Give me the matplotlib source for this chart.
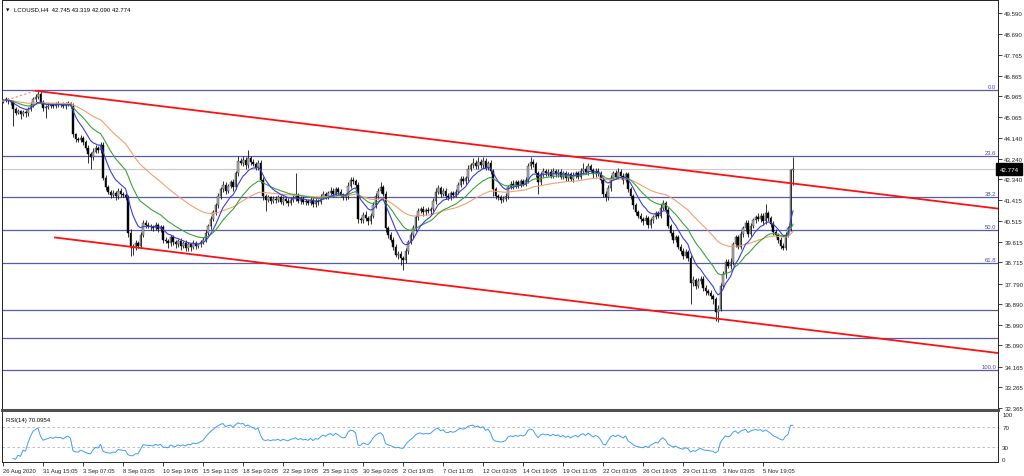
import numpy as np
import pandas as pd
import matplotlib
matplotlib.use('Agg')
import matplotlib.pyplot as plt
from matplotlib.transforms import blended_transform_factory

plt.rcParams['font.family'] = ['Liberation Sans', 'DejaVu Sans']

# LCOUSD H4 closes, 10 bars per row (26 Aug - 6 Nov 2020)
closes = [
    45.78, 45.82, 45.74, 45.70, 45.40, 45.25, 45.30, 45.18, 45.28, 45.22,
    45.40, 45.60, 45.85, 45.95, 46.05, 45.70, 45.45, 45.50, 45.55, 45.60,
    45.55, 45.62, 45.58, 45.60, 45.52, 45.60, 45.65, 45.55, 44.30, 44.10,
    44.05, 44.15, 43.95, 43.70, 43.45, 43.30, 43.55, 43.70, 43.60, 43.85,
    42.40, 42.00, 41.80, 41.65, 41.75, 41.60, 41.85, 41.70, 41.65, 41.55,
    40.00, 39.40, 39.35, 39.55, 39.45, 39.90, 40.45, 40.35, 40.30, 40.25,
    40.20, 40.35, 40.15, 40.25, 39.70, 39.65, 39.55, 39.80, 39.60, 39.50,
    39.65, 39.45, 39.55, 39.35, 39.50, 39.40, 39.55, 39.45, 39.50, 39.60,
    39.70, 40.00, 40.30, 40.60, 40.90, 41.20, 41.60, 41.90, 42.10, 41.85,
    42.05, 42.20, 42.00, 42.60, 43.15, 43.05, 43.20, 42.95, 43.25, 43.10,
    43.00, 42.85, 43.05, 42.30, 41.60, 41.45, 41.55, 41.40, 41.50, 41.45,
    41.55, 41.35, 41.50, 41.40, 41.30, 41.45, 41.50, 41.60, 41.40, 41.50,
    41.35, 41.40, 41.30, 41.45, 41.25, 41.40, 41.35, 41.55, 41.70, 41.60,
    41.75, 41.85, 41.70, 41.90, 41.80, 41.65, 41.55, 41.60, 42.05, 42.30,
    42.25, 42.10, 40.60, 40.55, 40.80, 40.65, 40.50, 40.75, 41.20, 41.60,
    41.85, 42.00, 41.70, 40.20, 39.90, 39.70, 39.40, 39.05, 39.10, 38.90,
    38.80, 39.20, 39.60, 39.90, 40.20, 40.70, 40.95, 41.05, 40.90, 41.00,
    40.95, 41.05, 41.40, 41.80, 41.95, 41.70, 41.85, 41.60, 41.55, 41.75,
    41.65, 41.80, 42.10, 42.35, 42.25, 42.40, 42.80, 42.95, 43.05, 42.90,
    43.10, 42.95, 43.15, 42.85, 43.05, 42.70, 41.90, 41.60, 41.55, 41.45,
    41.50, 41.60, 42.00, 42.15, 42.05, 42.20, 42.10, 42.25, 42.15, 42.30,
    42.90, 43.10, 43.00, 42.60, 42.20, 42.55, 42.70, 42.60, 42.65, 42.50,
    42.70, 42.55, 42.65, 42.45, 42.60, 42.40, 42.55, 42.35, 42.50, 42.60,
    42.45, 42.70, 42.80, 42.65, 42.90, 42.75, 42.55, 42.70, 42.60, 42.30,
    41.70, 41.55, 41.95, 42.40, 42.60, 42.45, 42.65, 42.50, 42.30, 42.55,
    41.90, 41.60, 41.20, 40.90, 40.75, 40.60, 40.50, 40.65, 40.35, 40.55,
    40.70, 40.85, 40.75, 41.10, 41.30, 41.00, 40.30, 40.00, 39.70, 39.80,
    39.40, 39.20, 39.00, 39.15, 38.90, 37.80, 37.95, 37.70, 37.90, 38.00,
    37.60, 37.45, 37.40, 37.25, 37.10, 36.55, 36.70, 37.70, 38.20, 38.75,
    38.55, 38.75, 39.50, 39.80, 39.40, 39.95, 40.20, 40.45, 39.95, 40.30,
    40.55, 40.70, 40.60, 40.75, 40.50, 40.85, 40.65, 40.40, 40.05, 39.90,
    39.70, 39.45, 39.35, 39.90, 40.20, 42.745, 42.774,
]
first_open = 45.72

# wick lengths in cents above / below the candle body
up_wick = [
    8, 10, 6, 5, 8, 10, 12, 6, 10, 8,
    8, 10, 8, 10, 17, 12, 10, 8, 10, 8,
    8, 10, 12, 8, 10, 12, 10, 8, 10, 8,
    10, 12, 8, 10, 12, 8, 15, 12, 10, 12,
    10, 12, 10, 8, 12, 10, 12, 10, 8, 10,
    10, 15, 10, 12, 10, 15, 12, 10, 12, 10,
    10, 12, 10, 8, 10, 12, 10, 12, 10, 8,
    10, 12, 10, 12, 10, 8, 12, 10, 8, 10,
    10, 12, 10, 15, 12, 10, 15, 12, 15, 12,
    10, 12, 15, 10, 20, 12, 15, 10, 35, 12,
    12, 10, 12, 15, 12, 10, 12, 8, 10, 12,
    10, 12, 10, 8, 12, 10, 15, 100, 12, 10,
    12, 10, 8, 12, 10, 12, 10, 15, 12, 10,
    10, 15, 10, 12, 10, 12, 10, 12, 15, 12,
    12, 10, 12, 10, 12, 15, 10, 12, 15, 12,
    12, 20, 10, 12, 10, 12, 10, 12, 10, 12,
    10, 12, 10, 12, 15, 10, 12, 10, 12, 10,
    12, 10, 12, 15, 12, 10, 12, 10, 12, 10,
    10, 12, 10, 15, 12, 10, 15, 12, 20, 12,
    20, 12, 15, 12, 10, 12, 10, 12, 10, 12,
    10, 12, 10, 12, 15, 10, 12, 10, 12, 15,
    15, 20, 12, 10, 12, 10, 12, 10, 15, 12,
    12, 10, 15, 12, 10, 12, 10, 12, 15, 12,
    10, 12, 25, 10, 15, 12, 10, 12, 15, 12,
    10, 12, 15, 12, 10, 15, 20, 12, 10, 12,
    10, 12, 10, 12, 10, 12, 10, 15, 10, 12,
    10, 12, 10, 15, 15, 10, 12, 10, 12, 10,
    12, 10, 12, 15, 10, 12, 15, 10, 12, 10,
    10, 12, 10, 12, 10, 12, 15, 12, 15, 12,
    12, 15, 12, 10, 12, 15, 12, 10, 12, 15,
    12, 10, 15, 12, 10, 40, 12, 10, 12, 10,
    10, 12, 10, 12, 10, 5, 54.5,
]
down_wick = [
    6, 8, 10, 12, 75, 10, 8, 20, 10, 15,
    10, 8, 10, 12, 10, 8, 15, 45, 10, 8,
    8, 10, 8, 10, 8, 10, 8, 12, 10, 15,
    10, 8, 12, 10, 40, 50, 10, 8, 12, 10,
    10, 12, 10, 12, 10, 15, 10, 12, 10, 12,
    20, 40, 30, 10, 12, 10, 10, 12, 10, 12,
    10, 8, 12, 10, 12, 10, 20, 10, 12, 15,
    12, 20, 10, 15, 12, 20, 10, 15, 12, 10,
    10, 8, 10, 12, 10, 12, 10, 12, 10, 15,
    12, 10, 15, 10, 12, 10, 12, 15, 10, 12,
    10, 12, 10, 12, 15, 50, 10, 12, 10, 15,
    12, 10, 15, 10, 12, 10, 8, 12, 10, 12,
    10, 12, 10, 8, 12, 10, 12, 10, 8, 12,
    12, 10, 12, 10, 15, 10, 12, 10, 12, 10,
    10, 12, 15, 12, 10, 12, 15, 10, 12, 10,
    10, 12, 10, 15, 12, 10, 15, 12, 20, 30,
    40, 10, 12, 10, 12, 10, 12, 10, 15, 12,
    10, 12, 10, 12, 10, 15, 10, 12, 10, 12,
    12, 10, 12, 10, 12, 10, 12, 10, 12, 10,
    10, 12, 10, 12, 10, 12, 30, 10, 12, 15,
    12, 10, 12, 10, 12, 10, 12, 10, 12, 10,
    12, 10, 12, 15, 50, 12, 10, 12, 10, 12,
    10, 12, 10, 12, 10, 15, 12, 10, 12, 10,
    12, 10, 12, 10, 12, 10, 15, 12, 10, 12,
    12, 15, 10, 12, 10, 12, 10, 12, 15, 10,
    12, 10, 15, 12, 10, 12, 15, 10, 12, 15,
    12, 10, 12, 10, 12, 15, 10, 12, 15, 10,
    10, 12, 15, 10, 12, 90, 12, 15, 10, 12,
    12, 15, 10, 12, 20, 40, 45, 10, 12, 15,
    10, 12, 15, 12, 10, 12, 15, 10, 12, 10,
    10, 12, 10, 12, 15, 10, 12, 15, 12, 10,
    12, 15, 10, 8, 10, 10, 65.5,
]

# fibonacci retracement drawn on the chart
fib_high = 46.22
fib_low = 34.02
fib_levels = [0.0, 23.6, 38.2, 50.0, 61.8, 78.6, 88.6, 100.0]
fib_texts = ['0.0', '23.6', '38.2', '50.0', '61.8', '', '', '100.0']

# channel trendlines: (bar, price) anchors
upper_line = [(13, 46.20), (398, 41.06)]
lower_line = [(20.8, 39.80), (398, 34.76)]
dotted_line = [(0, 45.74), (13, 46.20)]

price_ticks = ['49.590', '48.690', '47.765', '46.865', '45.965', '45.065', '44.140',
               '43.240', '42.340', '41.415', '40.515', '39.615', '38.715', '37.790',
               '36.890', '35.990', '35.090', '34.165', '33.265', '32.365']
date_labels = ['26 Aug 2020', '31 Aug 15:05', '3 Sep 07:05', '8 Sep 03:05', '10 Sep 19:05',
               '15 Sep 11:05', '18 Sep 03:05', '22 Sep 19:05', '25 Sep 11:05', '30 Sep 03:05',
               '2 Oct 19:05', '7 Oct 11:05', '12 Oct 03:05', '14 Oct 19:05', '19 Oct 11:05',
               '22 Oct 03:05', '26 Oct 19:05', '29 Oct 11:05', '3 Nov 03:05', '5 Nov 19:05']
bars_per_label = 16
last_price = 42.774
header = 'LCOUSD,H4  42.745 43.319 42.090 42.774'
rsi_text = 'RSI(14) 70.0954'

# ---- build OHLC
close = pd.Series(closes, dtype=float)
opens = pd.Series([first_open] + closes[:-1], dtype=float)
highs = np.maximum(opens, close) + np.array(up_wick) / 100
lows = np.minimum(opens, close) - np.array(down_wick) / 100
idx = np.arange(len(close))

ma_fast = close.ewm(span=9, adjust=False).mean()
ma_mid = close.ewm(span=21, adjust=False).mean()
ma_slow = close.ewm(span=50, adjust=False).mean()

delta = close.diff()
gain = delta.clip(lower=0).ewm(alpha=1 / 14, adjust=True).mean()
loss = (-delta.clip(upper=0)).ewm(alpha=1 / 14, adjust=True).mean()
rsi = 100 - 100 / (1 + gain / loss)
rsi_start = 4  # first few values are not settled yet

# ---- figure
W, H = 1024, 477
fig = plt.figure(figsize=(W / 100, H / 100), dpi=100)
ax = fig.add_axes([2 / W, (H - 411) / H, 996 / W, 410 / H])
ax_rsi = fig.add_axes([2 / W, (H - 463) / H, 996 / W, 50 / H])

px_per_bar = 2.5
x_left = (2 - 3) / px_per_bar
x_right = x_left + 996 / px_per_bar
for a in (ax, ax_rsi):
    a.set_xlim(x_left, x_right)

ax.set_ylim(32.275, 50.16)

# fib lines
for lvl, txt in zip(fib_levels, fib_texts):
    p = fib_high - (fib_high - fib_low) * lvl / 100
    ax.axhline(p, color='#5a5aaa', lw=0.9, zorder=1)
    if txt:
        ax.text(x_right - 0.8, p + 0.04, txt, ha='right', va='bottom',
                fontsize=4.2, color='#4a4a9a', zorder=6)

# bid line
ax.axhline(last_price, color='#c8c8c8', lw=0.8, zorder=1)

# candles
ax.vlines(idx, lows, highs, color='#111111', lw=0.6, zorder=3)
bull = close >= opens
body_h = (close - opens).abs().clip(lower=0.02)
body_b = np.minimum(opens, close)
ax.bar(idx[bull], body_h[bull], bottom=body_b[bull], width=0.7,
       color='#b4b4b4', edgecolor='#222222', linewidth=0.3, zorder=4)
ax.bar(idx[~bull], body_h[~bull], bottom=body_b[~bull], width=0.7,
       color='#000000', edgecolor='#000000', linewidth=0.3, zorder=4)

# moving averages
ax.plot(idx, ma_slow, color='#f0a070', lw=0.8, zorder=5)
ax.plot(idx, ma_mid, color='#3aa33a', lw=0.8, zorder=5)
ax.plot(idx, ma_fast, color='#3c3cdc', lw=0.8, zorder=5)

# trendlines
ax.plot(*zip(*upper_line), color='#ff1010', lw=1.3, zorder=5)
ax.plot(*zip(*lower_line), color='#ff1010', lw=1.3, zorder=5)
ax.plot(*zip(*dotted_line), color='#ff8080', lw=0.8, ls=(0, (2, 2)), zorder=5)

# right price scale
ax.yaxis.tick_right()
ax.set_yticks([float(t) for t in price_ticks])
ax.set_yticklabels(price_ticks)
ax.tick_params(axis='y', length=3, width=0.6, labelsize=4.4, pad=1.5, colors='#222222')
ax.set_xticks([])
for s in ax.spines.values():
    s.set_color('#222222')
    s.set_linewidth(0.7)
ax.spines['bottom'].set_linewidth(2.2)
ax.spines['bottom'].set_color('#505050')

# current price box
tr = blended_transform_factory(ax.transAxes, ax.transData)
ax.text(1.0015, last_price, f'{last_price:.3f}', transform=tr, ha='left', va='center',
        fontsize=4.4, color='white', zorder=10, clip_on=False,
        bbox=dict(facecolor='black', edgecolor='black', pad=0.6, boxstyle='square'))

ax.text(4 / 996, 1 - 9 / 410, '\u25bc', transform=ax.transAxes, fontsize=3.2,
        va='center', ha='left', family='DejaVu Sans')
ax.text(12 / 996, 1 - 9 / 410, header, transform=ax.transAxes, fontsize=4.3,
        va='center', ha='left')

# RSI panel
ax_rsi.set_ylim(0, 100)
ax_rsi.axhline(70, color='#b0b0b0', lw=0.6, ls=(0, (3, 3)))
ax_rsi.axhline(30, color='#b0b0b0', lw=0.6, ls=(0, (3, 3)))
ax_rsi.plot(idx[rsi_start:], rsi[rsi_start:], color='#3d9bff', lw=0.7)
ax_rsi.text(4 / 996, 0.84, rsi_text, transform=ax_rsi.transAxes, fontsize=4.3,
            va='center', ha='left')
ax_rsi.yaxis.tick_right()
ax_rsi.set_yticks([100, 70, 30, 0])
ax_rsi.set_yticklabels(['100', '70', '30', '0'])
ax_rsi.tick_params(axis='y', length=0, labelsize=4.4, pad=3, colors='#222222')
rsi_ylabels = ax_rsi.get_yticklabels()
rsi_ylabels[0].set_verticalalignment('top')
rsi_ylabels[-1].set_verticalalignment('bottom')
for s in ax_rsi.spines.values():
    s.set_color('#222222')
    s.set_linewidth(0.7)
ax_rsi.spines['top'].set_visible(False)

ax_rsi.set_xticks(np.arange(len(date_labels)) * bars_per_label)
ax_rsi.set_xticklabels(date_labels)
for lab in ax_rsi.get_xticklabels():
    lab.set_horizontalalignment('left')
ax_rsi.tick_params(axis='x', length=3, width=0.6, labelsize=4.2, pad=1.5, colors='#222222')

fig.savefig('out.png', dpi=100)
